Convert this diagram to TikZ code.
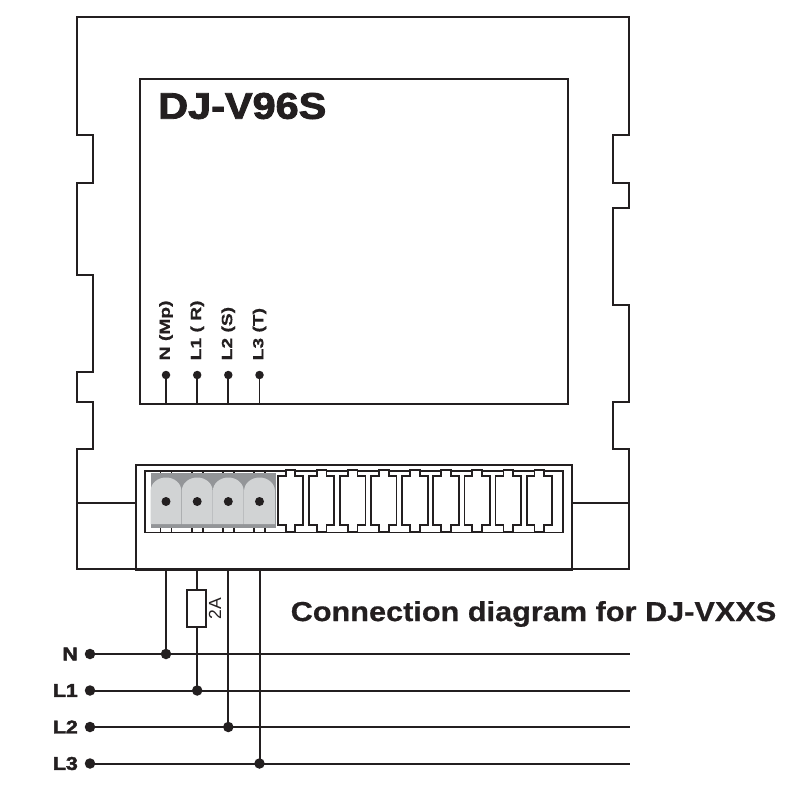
\documentclass[tikz,border=0pt]{standalone}
\usepackage{graphicx}
\usepackage{fontspec}
\setmainfont{Liberation Sans}
\newfontfamily\heavyfont[FakeBold=2.2]{Liberation Sans Bold}
\newfontfamily\semifont[FakeBold=0.5]{Liberation Sans Bold}
\definecolor{ink}{HTML}{231F20}
\definecolor{termlight}{HTML}{D1D3D4}
\definecolor{termdark}{HTML}{939598}
\tikzset{
  x=1pt,y=-1pt,
  outline/.style={draw=ink,line width=2pt,line join=miter},
  wire/.style={draw=ink,line width=2pt},
  thin wire/.style={draw=ink,line width=1.8pt},
  junction/.style={circle,fill=ink,inner sep=0pt,minimum size=10.5pt},
  smalldot/.style={circle,fill=ink,inner sep=0pt,minimum size=8.5pt},
  termdot/.style={circle,fill=ink,inner sep=0pt,minimum size=9pt},
  busname/.style={anchor=east,font=\heavyfont\fontsize{18.5}{18.5}\selectfont,text=ink,inner sep=0pt},
  pinname/.style={rotate=90,anchor=west,font=\semifont\fontsize{14.8}{15}\selectfont,text=ink,inner sep=0pt},
  fusebox/.style={draw=ink,line width=1.8pt,minimum width=19pt,minimum height=37pt,inner sep=0pt},
}
\begin{document}
\begin{tikzpicture}
\useasboundingbox (0,0) rectangle (800,800);
\fill[white] (0,0) rectangle (800,800);

% housing
\draw[outline] (77,17) -- (628.5,17) -- (628.5,135) -- (612.5,135) -- (612.5,183) -- (628.5,183)
  -- (628.5,208) -- (612.5,208) -- (612.5,305) -- (628.5,305) -- (628.5,402) -- (612.5,402)
  -- (612.5,449) -- (628.5,449) -- (628.5,569) -- (77,569) -- (77,449) -- (93,449) -- (93,402)
  -- (77,402) -- (77,372) -- (93,372) -- (93,275) -- (77,275) -- (77,183) -- (93,183) -- (93,135)
  -- (77,135) -- cycle;
% display
\node[draw=ink,line width=2pt,minimum width=428pt,minimum height=325pt,inner sep=0pt,anchor=north west] (display) at (139,78) {};
% terminal block frame
\node[draw=ink,line width=2pt,minimum width=435.5pt,minimum height=105pt,inner sep=0pt,anchor=north west] (block) at (135,464) {};
\node[draw=ink,line width=1.8pt,minimum width=418pt,minimum height=61.5pt,inner sep=0pt,anchor=north west] (inner) at (144,470) {};
\coordinate (hl) at (77,503);
\coordinate (hr) at (628.5,503);
\draw[thin wire] (hl) -- (hl-|block.west);
\draw[thin wire] (hr) -- (hr-|block.east);

% grey terminals
\fill[termdark] (150.5,473) rectangle (275.5,528);
\foreach \c in {166,197.2,228.3,259.5}{
  \fill[termlight] (\c-15.4,524) -- (\c-15.4,491) .. controls (\c-15.4,483) and (\c-8,477.5) .. (\c,477.5)
    .. controls (\c+8,477.5) and (\c+15.4,483) .. (\c+15.4,491) -- (\c+15.4,524) -- cycle;
  \draw[thin wire] (\c-5.5,470) -- (\c-5.5,473) (\c+5.5,470) -- (\c+5.5,473)
    (\c-5.5,528) -- (\c-5.5,531.5) (\c+5.5,528) -- (\c+5.5,531.5);
}
\node[termdot] (t1) at (166,501.5) {};
\node[termdot] (t2) at (197.2,501.5) {};
\node[termdot] (t3) at (228.3,501.5) {};
\node[termdot] (t4) at (259.5,501.5) {};

% white terminal cells
\foreach \i in {0,...,8}{
  \pgfmathsetmacro{\c}{290.5+31.1*\i}
  \draw[thin wire,fill=white] (\c-12.7,476) -- (\c-4.8,476) -- (\c-4.8,470) -- (\c+4.8,470) -- (\c+4.8,476)
    -- (\c+12.7,476) -- (\c+12.7,525) -- (\c+4.8,525) -- (\c+4.8,531.5) -- (\c-4.8,531.5) -- (\c-4.8,525)
    -- (\c-12.7,525) -- cycle;
}

% title
\node[anchor=west,inner sep=0pt,font=\heavyfont\fontsize{37}{37}\selectfont,text=ink] (title) at (158,106) {\scalebox{1.12}[1]{DJ-V96S}};
\node[anchor=west,inner sep=0pt,font=\semifont\fontsize{27.5}{28}\selectfont,text=ink] (caption) at (290.5,614) {\scalebox{1.115}[1]{Connection diagram for DJ-VXXS}};

% display pins
\node[smalldot] (p1) at (166,375) {};
\node[smalldot] (p2) at (197.2,375) {};
\node[smalldot] (p3) at (228.3,375) {};
\node[smalldot] (p4) at (259.5,375) {};
\foreach \p in {p1,p2,p3,p4}{ \draw[thin wire] (\p.center) -- (\p|-display.south); }
\node[pinname] at (166,360.5) {\scalebox{1.3}[1]{N (Mp)}};
\node[pinname] at (197.2,360.5) {\scalebox{1.3}[1]{L1 ( R)}};
\node[pinname] at (228.3,360.5) {\scalebox{1.3}[1]{L2 (S)}};
\node[pinname] at (259.5,360.5) {\scalebox{1.3}[1]{L3 (T)}};

% bus lines
\node[junction] (sN) at (90,654) {};
\node[junction] (s1) at (90,690.5) {};
\node[junction] (s2) at (90,727) {};
\node[junction] (s3) at (90,763.5) {};
\coordinate (eN) at (630,654);
\coordinate (e1) at (630,690.5);
\coordinate (e2) at (630,727);
\coordinate (e3) at (630,763.5);
\node[busname] at (78,654) {\scalebox{1.15}[1]{N}};
\node[busname] at (78,690.5) {\scalebox{1.15}[1]{L1}};
\node[busname] at (78,727) {\scalebox{1.15}[1]{L2}};
\node[busname] at (78,763.5) {\scalebox{1.15}[1]{L3}};
\draw[wire] (sN.center) -- (eN);
\draw[wire] (s1.center) -- (e1);
\draw[wire] (s2.center) -- (e2);
\draw[wire] (s3.center) -- (e3);

% junctions and drops
\node[junction] (jN) at (166,654) {};
\node[junction] (j1) at (197.2,690.5) {};
\node[junction] (j2) at (228.3,727) {};
\node[junction] (j3) at (259.5,763.5) {};
\coordinate (dN) at (166,569);
\coordinate (d1) at (197.2,569);
\coordinate (d2) at (228.3,569);
\coordinate (d3) at (259.5,569);
\node[fusebox] (fuse) at (196.5,608.5) {};
\node[rotate=90,inner sep=0pt,font=\fontsize{17.5}{18}\selectfont,text=ink] at (215,609) {2A};
\draw[wire] (dN) -- (jN.center);
\draw[wire] (d1) -- (d1|-fuse.north);
\draw[wire] (d1|-fuse.south) -- (j1.center);
\draw[wire] (d2) -- (j2.center);
\draw[wire] (d3) -- (j3.center);
\end{tikzpicture}
\end{document}
